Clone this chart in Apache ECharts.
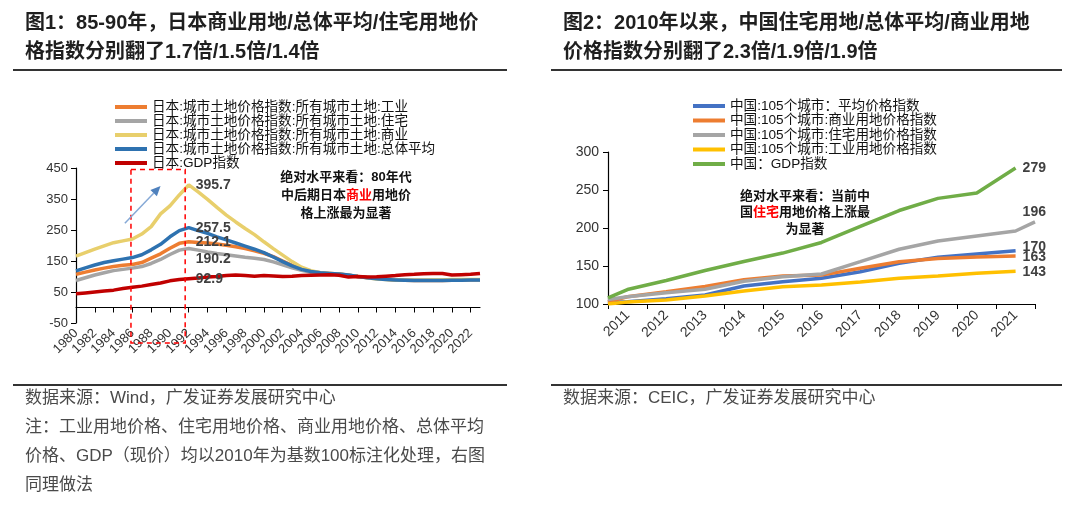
<!DOCTYPE html>
<html><head><meta charset="utf-8">
<script src="https://cdn.jsdelivr.net/npm/echarts@6/dist/echarts.min.js"></script>
<style>html,body{margin:0;padding:0;background:#fff}#c{width:1080px;height:516px}</style>
</head><body><div id="c"></div>
<script>
// ---------- Figure 1 data: Japan (2010 = 100) ----------
const jpYears = ['1980','1981','1982','1983','1984','1985','1986','1987','1988','1989','1990','1991','1992','1993','1994','1995','1996','1997','1998','1999','2000','2001','2002','2003','2004','2005','2006','2007','2008','2009','2010','2011','2012','2013','2014','2015','2016','2017','2018','2019','2020','2021','2022','2023'];
const jpIndustrial = [107,114,121,127,132,136,139,145,159,173,191,207,212.1,210,208,205,201,196,190,183,175,164,150,136,124,116,112,110,108,104,100,97,94,91,89,88,87,87,87,87,88,88,89,89];
const jpResidential = [87,96,105,112,119,123,127,132,142,155,171,185,190.2,185,179,174,170,166,162,159,155,147,138,128,120,114,111,109,107,104,100,97,94,92,90,89,88,88,88,88,88,89,89,89];
const jpCommercial = [166,177,188,199,209,215,221,237,261,302,328,363,395.7,373,349,323,298,276,255,235,212,190,169,148,130,119,112,110,108,104,100,96,92,90,89,88,88,88,89,89,90,90,90,90];
const jpAverage = [118,128,137,145,151,156,161,170,186,204,228,248,257.5,248,239,228,218,208,198,188,177,163,148,134,123,116,112,110,108,105,100,96,93,90,89,88,87,87,87,87,88,88,89,89];
const jpGDP = [44,47,50,53,56,61,65,69,74,79,86,90,92.9,95,98,100,103,105,103,101,103,102,100,101,103,104,105,106,104,98,100,98,99,101,103,106,107,109,110,110,105,106,107,110];
const jpLabelYear = '1992';
const jpYTicks = [-50, 50, 150, 250, 350, 450];

// ---------- Figure 2 data: China, 105 cities (2010 = 100) ----------
const cnYears = ['2011','2012','2013','2014','2015','2016','2017','2018','2019','2020','2021'];
const cnAverage = [103,107,111.8,123.7,129.4,133.8,142.5,153.5,161.4,165.8,170];
const cnCommercial = [109.6,116,123,132,136.8,138,147,155.7,160,162,163];
const cnResidential = [109.6,114.9,119.3,130,136,139.5,155.7,172,183,189.5,196];
const cnIndustrial = [102.6,105.3,110.5,117,122.8,125,129,133.8,137,140.4,143];
const cnGDP = [119,131,144,156,167,181,202,223,239,246,279];
// value where each line starts at the left edge of the axis
const cnStart = {avg:102, com:103, res:106, ind:100, gdp:108};
const cnResidentialTail = 208;
const cnLabelYear = '2021';

const FONT = '"Liberation Sans", Arial, "Noto Sans CJK SC", sans-serif';
const TXT = '#404040';

// half-year slots for figure 2 axis (Excel-style date axis)
const cnSlots = [];
cnYears.forEach((y, i) => { cnSlots.push(String(Number(y) - 0.5)); cnSlots.push(y); });
cnSlots.push(String(Number(cnYears[cnYears.length - 1]) + 0.5));
function cnSeriesData(vals, start, tail) {
  const d = [start];
  vals.forEach(v => { d.push(v); d.push(null); });
  d[d.length - 1] = (tail === undefined ? null : tail);
  return d;
}

const jpNames = ['日本:城市土地价格指数:所有城市土地:工业','日本:城市土地价格指数:所有城市土地:住宅','日本:城市土地价格指数:所有城市土地:商业','日本:城市土地价格指数:所有城市土地:总体平均','日本:GDP指数'];
const cnNames = ['中国:105个城市：平均价格指数','中国:105个城市:商业用地价格指数','中国:105个城市:住宅用地价格指数','中国:105个城市:工业用地价格指数','中国：GDP指数'];

const jpIdx = jpYears.indexOf(jpLabelYear);
const cnIdx = cnSlots.indexOf(cnLabelYear);

function peakLabel(coordX, val, dy) {
  return {
    symbol: 'circle', symbolSize: 0, silent: true, animation: false,
    label: {show: true, position: 'right', distance: 7, formatter: '{c}', fontSize: 14, fontWeight: 'bold', color: TXT, fontFamily: FONT, offset: [0, dy || 0]},
    data: [{coord: [coordX, val], value: val}]
  };
}

function jpSeries(name, data, color, dy) {
  return {
    name, type: 'line', xAxisIndex: 0, yAxisIndex: 0, data, showSymbol: false, symbol: 'none',
    lineStyle: {width: 3.5, color}, itemStyle: {color}, animation: false,
    markPoint: peakLabel(jpLabelYear, data[jpIdx], dy)
  };
}
function cnSeries(name, data, color, labelVal, dy) {
  return {
    name, type: 'line', xAxisIndex: 2, yAxisIndex: 1, data, showSymbol: false, symbol: 'none', connectNulls: true,
    lineStyle: {width: 3.5, color}, itemStyle: {color}, animation: false,
    markPoint: peakLabel(cnLabelYear, labelVal, dy)
  };
}

const chart = echarts.init(document.getElementById('c'), null, {renderer: 'canvas'});
const axisTxt = {color: '#333', fontSize: 13, fontFamily: FONT};

chart.setOption({
  animation: false,
  backgroundColor: '#fff',
  grid: [
    {left: 76, top: 168, width: 404, height: 155, containLabel: false},
    {left: 608, top: 152, width: 427, height: 152, containLabel: false}
  ],
  legend: [
    {data: jpNames, orient: 'vertical', left: 110, top: 95, itemWidth: 32, itemHeight: 4, itemGap: 0, icon: 'rect',
     textStyle: {fontSize: 13.6, color: '#111', fontFamily: FONT, lineHeight: 14}, selectedMode: false},
    {data: cnNames, orient: 'vertical', left: 688, top: 94, itemWidth: 32, itemHeight: 4, itemGap: 0.5, icon: 'rect',
     textStyle: {fontSize: 13.6, color: '#111', fontFamily: FONT, lineHeight: 14}, selectedMode: false}
  ],
  xAxis: [
    {type: 'category', gridIndex: 0, data: jpYears, boundaryGap: false, position: 'bottom',
     axisLine: {show: true, onZero: true, lineStyle: {color: '#000', width: 1.2}},
     axisTick: {show: true, interval: 1, length: 5, lineStyle: {color: '#000'}},
     axisLabel: {show: false}, splitLine: {show: false}},
    {type: 'category', gridIndex: 0, data: jpYears, boundaryGap: false, position: 'bottom',
     axisLine: {show: false, onZero: false}, axisTick: {show: false},
     axisLabel: Object.assign({show: true, interval: 1, rotate: 45, margin: 8}, axisTxt), splitLine: {show: false}},
    {type: 'category', gridIndex: 1, data: cnSlots, boundaryGap: false, position: 'bottom',
     axisLine: {show: true, onZero: false, lineStyle: {color: '#000', width: 1.2}},
     axisTick: {show: true, length: 5, interval: (i) => i % 2 === 0, lineStyle: {color: '#000'}},
     axisLabel: Object.assign({show: true, interval: (i) => i % 2 === 1, rotate: 45, margin: 9}, axisTxt, {fontSize: 14}),
     splitLine: {show: false}}
  ],
  yAxis: [
    {type: 'value', gridIndex: 0, min: -50, max: 450, interval: 50,
     axisLine: {show: true, lineStyle: {color: '#000', width: 1.2}},
     axisTick: {show: true, length: 5, customValues: jpYTicks, lineStyle: {color: '#000'}},
     axisLabel: Object.assign({customValues: jpYTicks, margin: 8}, axisTxt), splitLine: {show: false}},
    {type: 'value', gridIndex: 1, min: 100, max: 300, interval: 50,
     axisLine: {show: true, lineStyle: {color: '#000', width: 1.2}},
     axisTick: {show: true, length: 5, lineStyle: {color: '#000'}},
     axisLabel: Object.assign({margin: 9}, axisTxt, {fontSize: 14}), splitLine: {show: false}}
  ],
  series: [
    jpSeries(jpNames[0], jpIndustrial, '#ED7D31', 0),
    jpSeries(jpNames[1], jpResidential, '#A5A5A5', 11),
    jpSeries(jpNames[2], jpCommercial, '#E8CF6C', 0),
    jpSeries(jpNames[3], jpAverage, '#2E72B0', 0),
    jpSeries(jpNames[4], jpGDP, '#C00000', 0),
    cnSeries(cnNames[0], cnSeriesData(cnAverage, cnStart.avg), '#4472C4', cnAverage[cnAverage.length-1], -4),
    cnSeries(cnNames[1], cnSeriesData(cnCommercial, cnStart.com), '#ED7D31', cnCommercial[cnCommercial.length-1], 1),
    cnSeries(cnNames[2], cnSeriesData(cnResidential, cnStart.res, cnResidentialTail), '#A5A5A5', cnResidential[cnResidential.length-1], -19),
    cnSeries(cnNames[3], cnSeriesData(cnIndustrial, cnStart.ind), '#FFC000', cnIndustrial[cnIndustrial.length-1], 1),
    cnSeries(cnNames[4], cnSeriesData(cnGDP, cnStart.gdp), '#70AD47', cnGDP[cnGDP.length-1], 0)
  ]
});

// ---------- annotations ----------
function jpPx(yearFloat, v) {
  const a = chart.convertToPixel({gridIndex: 0}, [0, v]);
  const b = chart.convertToPixel({gridIndex: 0}, [1, v]);
  const i = yearFloat - Number(jpYears[0]);
  return [a[0] + (b[0] - a[0]) * i, a[1]];
}
const boxTL = jpPx(1985.85, 445);
const boxBR = jpPx(1991.62, -50);
const boxBottom = boxBR[1] + 20;
const arrA = jpPx(1985.2, 272);
const arrB = jpPx(1989.0, 392);
const ang = Math.atan2(arrB[1] - arrA[1], arrB[0] - arrA[0]);
const hl = 10, hw = 4.5;
const bx = arrB[0] - hl * Math.cos(ang), by = arrB[1] - hl * Math.sin(ang);
const head = [[arrB[0], arrB[1]], [bx + hw * Math.sin(ang), by - hw * Math.cos(ang)], [bx - hw * Math.sin(ang), by + hw * Math.cos(ang)]];

function title(x, y, text) {
  return {type: 'text', x, y, silent: true, style: {text, fontSize: 20, fontWeight: 'bold', fontFamily: FONT, fill: '#1f1f1f', verticalAlign: 'middle', align: 'left'}};
}
function note(x, y, text) {
  return {type: 'text', x, y, silent: true, style: {text, fontSize: 17, fontFamily: FONT, fill: '#4a4a4a', verticalAlign: 'middle', align: 'left'}};
}
function rule(x1, x2, y) {
  return {type: 'line', silent: true, shape: {x1, y1: y, x2, y2: y}, style: {stroke: '#333', lineWidth: 2}};
}
const annBase = {fontSize: 13, fontWeight: 'bold', fontFamily: FONT, fill: '#111', align: 'center', verticalAlign: 'top'};

chart.setOption({
  graphic: [
    title(25, 23, '图1：85-90年，日本商业用地/总体平均/住宅用地价'),
    title(25, 52, '格指数分别翻了1.7倍/1.5倍/1.4倍'),
    title(563, 23, '图2：2010年以来，中国住宅用地/总体平均/商业用地'),
    title(563, 52, '价格指数分别翻了2.3倍/1.9倍/1.9倍'),
    rule(13, 507, 70), rule(551, 1062, 70), rule(13, 507, 385), rule(551, 1062, 385),
    note(25, 398, '数据来源：Wind，广发证券发展研究中心'),
    note(25, 427, '注：工业用地价格、住宅用地价格、商业用地价格、总体平均'),
    note(25, 456, '价格、GDP（现价）均以2010年为基数100标注化处理，右图'),
    note(25, 485, '同理做法'),
    note(563, 398, '数据来源：CEIC，广发证券发展研究中心'),
    {type: 'rect', silent: true, z: 100, shape: {x: boxTL[0], y: boxTL[1], width: boxBR[0] - boxTL[0], height: boxBottom - boxTL[1]},
     style: {fill: 'none', stroke: '#FF0000', lineWidth: 1.5, lineDash: [5, 4]}},
    {type: 'line', silent: true, z: 100, shape: {x1: arrA[0], y1: arrA[1], x2: bx, y2: by}, style: {stroke: '#86A9D6', lineWidth: 1.5}},
    {type: 'polygon', silent: true, z: 100, shape: {points: head}, style: {fill: '#4F81BD'}},
    {type: 'text', x: 346, y: 168, silent: true, z: 100,
     style: Object.assign({}, annBase, {lineHeight: 18, text: '绝对水平来看：80年代\n中后期日本{r|商业}用地价\n格上涨最为显著',
       rich: {r: {fill: '#FF0000', fontSize: 13, fontWeight: 'bold', fontFamily: FONT, lineHeight: 18}}})},
    {type: 'text', x: 805, y: 188, silent: true, z: 100,
     style: Object.assign({}, annBase, {lineHeight: 16.5, text: '绝对水平来看：当前中\n国{r|住宅}用地价格上涨最\n为显著',
       rich: {r: {fill: '#FF0000', fontSize: 13, fontWeight: 'bold', fontFamily: FONT, lineHeight: 16.5}}})}
  ]
});
</script></body></html>
